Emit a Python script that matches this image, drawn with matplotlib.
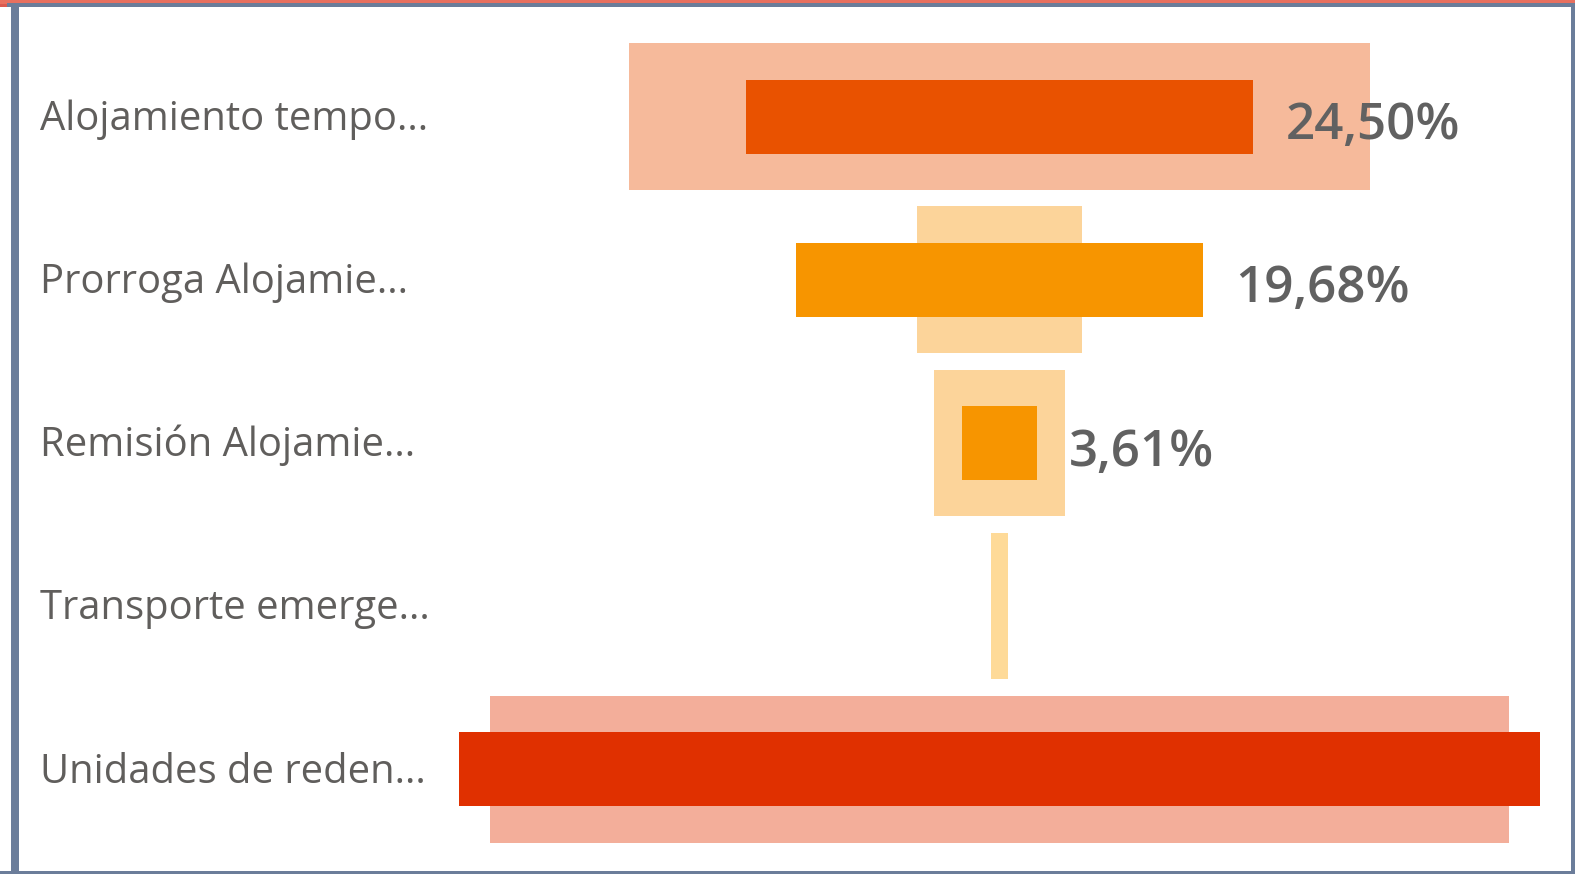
import matplotlib
matplotlib.use("Agg")
import matplotlib.pyplot as plt
from matplotlib.patches import Rectangle
from matplotlib.transforms import blended_transform_factory

# ======================
# data
# ======================
categories = ["Alojamiento tempo...", "Prorroga Alojamie...", "Remisión Alojamie...",
              "Transporte emerge...", "Unidades de reden..."]
outer_values = [35.71, 8.01, 6.32, 0.82, 49.14]   # % (background series)
inner_values = [24.50, 19.68, 3.61, 0.00, 52.21]  # % (front series)
value_labels = ["24,50%", "19,68%", "3,61%", "", ""]

outer_colors = ["#F6BA9B", "#FCD49A", "#FCD49A", "#FEDA98", "#F3AE9A"]
inner_colors = ["#E95200", "#F79500", "#F79500", "#F79500", "#E03000"]

W, H = 1591, 874
plt.rcParams['font.family'] = ['Open Sans', 'DejaVu Sans']
fig = plt.figure(figsize=(W / 100, H / 100), dpi=100)
fig.patch.set_facecolor("white")


def fx(px):
    return px / W


def fy(py):
    return 1 - py / H


# plot area (centre of the funnel at x ~ 999.5 px)
ax_left, ax_right = 458.5, 1540.5
ax_top, ax_bot = 35.2, 850.7
ax = fig.add_axes([fx(ax_left), fy(ax_bot), fx(ax_right - ax_left), (ax_bot - ax_top) / H])
ax.set_axis_off()

ypos = list(range(len(categories)))
half = max(inner_values + outer_values) / 2
ax.set_xlim(-half, half)
ax.set_ylim(len(categories) - 0.5, -0.5)

ax.barh(ypos, outer_values, left=[-v / 2 for v in outer_values], height=0.90,
        color=outer_colors, linewidth=0)
ax.barh(ypos, inner_values, left=[-v / 2 for v in inner_values], height=0.456,
        color=inner_colors, linewidth=0)

# value labels to the right of the front bar
for y, v, lab in zip(ypos, inner_values, value_labels):
    if lab:
        ax.annotate(lab, xy=(v / 2, y), xytext=(23, -16.3), textcoords="offset points",
                    ha="left", va="baseline", fontsize=36.8, fontweight="semibold",
                    color="#616161")

# category labels on the left
tr = blended_transform_factory(fig.transFigure, ax.transData)
for y, name in zip(ypos, categories):
    fig.text(fx(40), y + 0.082, name, transform=tr, ha="left", va="baseline",
             fontsize=28.8, color="#605E5C")

# frame around the visual
def px_rect(x0, y0, x1, y1, color):
    fig.patches.append(Rectangle((fx(x0), fy(y1)), fx(x1 - x0), (y1 - y0) / H,
                                 transform=fig.transFigure, facecolor=color,
                                 edgecolor="none", zorder=5))


frame = "#6B7D9A"
px_rect(0, 0, 1575, 3.5, "#E8705F")
px_rect(0, 3.5, 7, 7, "#DA5A50")
px_rect(7, 3.5, 1575, 6.5, frame)
px_rect(11, 4, 19, 874, frame)
px_rect(1571, 4, 1575, 874, frame)
px_rect(0, 870.5, 1575, 874, frame)

fig.savefig("out.png", dpi=100)
